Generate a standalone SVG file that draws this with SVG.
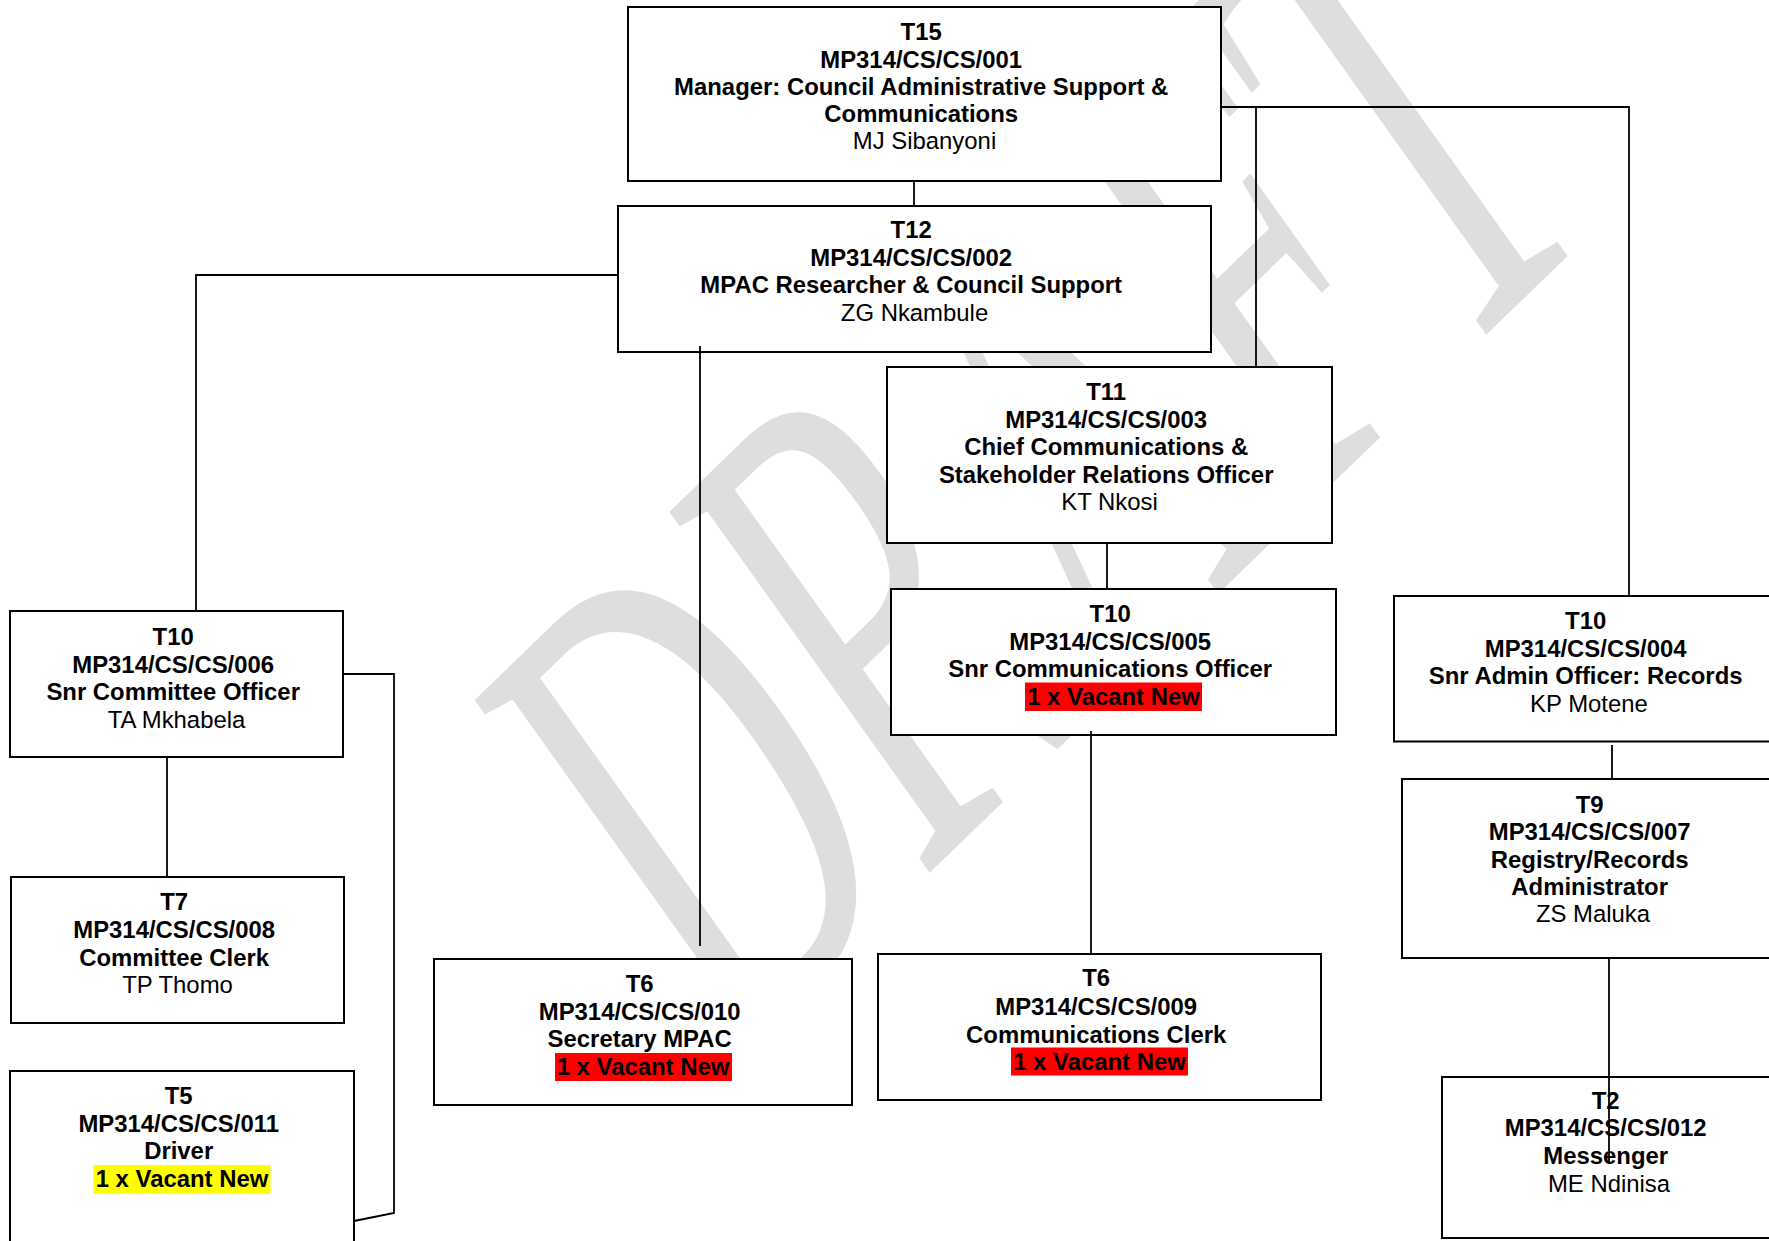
<svg xmlns="http://www.w3.org/2000/svg" width="1769" height="1241" viewBox="0 0 1769 1241">
  <style>
    .box { fill: #ffffff; stroke: #000000; stroke-width: 2; }
    .t { font-family: "Liberation Sans", Arial, sans-serif; font-size: 23.9px; text-anchor: middle; fill: #000000; }
    .b { font-weight: bold; }
    .red { fill: #ff0000; }
    .yel { fill: #ffff00; }
    .link { stroke: #000000; stroke-width: 1.8; fill: none; }
    .wm { font-family: "Liberation Serif", "Times New Roman", serif; font-size: 100px; fill: #dedede; }
  </style>

  <rect width="1769" height="1241" fill="#ffffff"/>

  <!-- watermark behind everything (stretched, slanted serif lettering) -->
  <g id="watermark">
    <text class="wm" transform="matrix(2.696 -2.606 3.951 5.535 725.6 1070)">DRAFT</text>
  </g>

  <!-- position boxes -->
  <g id="node-t15-001">
    <rect class="box" x="628" y="7" width="593" height="174"/>
    <text class="t">
      <tspan class="b" x="924.5" y="40">T15</tspan>
      <tspan class="b" x="924.5" y="68">MP314/CS/CS/001</tspan>
      <tspan class="b" x="924.5" y="95">Manager: Council Administrative Support &amp;</tspan>
      <tspan class="b" x="924.5" y="122">Communications</tspan>
      <tspan x="924.5" y="149">MJ Sibanyoni</tspan>
    </text>
  </g>

  <g id="node-t12-002">
    <rect class="box" x="618" y="206" width="593" height="146"/>
    <text class="t">
      <tspan class="b" x="914.5" y="238">T12</tspan>
      <tspan class="b" x="914.5" y="265.5">MP314/CS/CS/002</tspan>
      <tspan class="b" x="914.5" y="293">MPAC Researcher &amp; Council Support</tspan>
      <tspan x="914.5" y="320.5">ZG Nkambule</tspan>
    </text>
  </g>

  <g id="node-t11-003">
    <rect class="box" x="887" y="367" width="445" height="176"/>
    <text class="t">
      <tspan class="b" x="1109.5" y="400">T11</tspan>
      <tspan class="b" x="1109.5" y="427.5">MP314/CS/CS/003</tspan>
      <tspan class="b" x="1109.5" y="455">Chief Communications &amp;</tspan>
      <tspan class="b" x="1109.5" y="482.5">Stakeholder Relations Officer</tspan>
      <tspan x="1109.5" y="510">KT Nkosi</tspan>
    </text>
  </g>

  <g id="node-t10-005">
    <rect class="box" x="891" y="589" width="445" height="146"/>
    <rect class="red" x="1025" y="682.5" width="177" height="28.5"/>
    <text class="t b">
      <tspan x="1113.5" y="622">T10</tspan>
      <tspan x="1113.5" y="650">MP314/CS/CS/005</tspan>
      <tspan x="1113.5" y="677">Snr Communications Officer</tspan>
      <tspan x="1113.5" y="705">1 x Vacant New</tspan>
    </text>
  </g>

  <g id="node-t10-004">
    <rect class="box" x="1394" y="596" width="390" height="145.5"/>
    <text class="t">
      <tspan class="b" x="1589" y="629">T10</tspan>
      <tspan class="b" x="1589" y="657">MP314/CS/CS/004</tspan>
      <tspan class="b" x="1589" y="684">Snr Admin Officer: Records</tspan>
      <tspan x="1589" y="712">KP Motene</tspan>
    </text>
  </g>

  <g id="node-t9-007">
    <rect class="box" x="1402" y="779" width="382" height="179"/>
    <text class="t">
      <tspan class="b" x="1593" y="813">T9</tspan>
      <tspan class="b" x="1593" y="840">MP314/CS/CS/007</tspan>
      <tspan class="b" x="1593" y="868">Registry/Records</tspan>
      <tspan class="b" x="1593" y="895">Administrator</tspan>
      <tspan x="1593" y="922">ZS Maluka</tspan>
    </text>
  </g>

  <g id="node-t2-012">
    <rect class="box" x="1442" y="1077" width="334" height="161"/>
    <text class="t">
      <tspan class="b" x="1609" y="1109">T2</tspan>
      <tspan class="b" x="1609" y="1136">MP314/CS/CS/012</tspan>
      <tspan class="b" x="1609" y="1164">Messenger</tspan>
      <tspan x="1609" y="1192">ME Ndinisa</tspan>
    </text>
  </g>

  <g id="node-t10-006">
    <rect class="box" x="10" y="611" width="333" height="146"/>
    <text class="t">
      <tspan class="b" x="176.5" y="644.5">T10</tspan>
      <tspan class="b" x="176.5" y="672.5">MP314/CS/CS/006</tspan>
      <tspan class="b" x="176.5" y="700">Snr Committee Officer</tspan>
      <tspan x="176.5" y="728">TA Mkhabela</tspan>
    </text>
  </g>

  <g id="node-t7-008">
    <rect class="box" x="11" y="877" width="333" height="146"/>
    <text class="t">
      <tspan class="b" x="177.5" y="909.5">T7</tspan>
      <tspan class="b" x="177.5" y="938">MP314/CS/CS/008</tspan>
      <tspan class="b" x="177.5" y="966">Committee Clerk</tspan>
      <tspan x="177.5" y="993">TP Thomo</tspan>
    </text>
  </g>

  <g id="node-t5-011">
    <rect class="box" x="10" y="1071" width="344" height="200"/>
    <rect class="yel" x="93.5" y="1165" width="177" height="29"/>
    <text class="t b">
      <tspan x="182" y="1104">T5</tspan>
      <tspan x="182" y="1132">MP314/CS/CS/011</tspan>
      <tspan x="182" y="1159">Driver</tspan>
      <tspan x="182" y="1187">1 x Vacant New</tspan>
    </text>
  </g>

  <g id="node-t6-010">
    <rect class="box" x="434" y="959" width="418" height="146"/>
    <rect class="red" x="555" y="1053" width="177" height="28"/>
    <text class="t b">
      <tspan x="643" y="992">T6</tspan>
      <tspan x="643" y="1020">MP314/CS/CS/010</tspan>
      <tspan x="643" y="1047">Secretary MPAC</tspan>
      <tspan x="643" y="1075">1 x Vacant New</tspan>
    </text>
  </g>

  <g id="node-t6-009">
    <rect class="box" x="878" y="954" width="443" height="146"/>
    <rect class="red" x="1011" y="1047.5" width="177" height="28"/>
    <text class="t b">
      <tspan x="1099.5" y="986">T6</tspan>
      <tspan x="1099.5" y="1014.5">MP314/CS/CS/009</tspan>
      <tspan x="1099.5" y="1042.5">Communications Clerk</tspan>
      <tspan x="1099.5" y="1070">1 x Vacant New</tspan>
    </text>
  </g>

  <!-- reporting lines -->
  <g id="connectors" class="link">
    <line x1="914" y1="181" x2="914" y2="206"/>
    <polyline points="1221,107 1629,107 1629,596"/>
    <line x1="1256" y1="106" x2="1256" y2="367"/>
    <polyline points="618,275 196,275 196,611"/>
    <line x1="700" y1="346" x2="700" y2="946"/>
    <line x1="1107" y1="543" x2="1107" y2="589"/>
    <line x1="1091" y1="731" x2="1091" y2="954"/>
    <line x1="1612" y1="745" x2="1612" y2="779"/>
    <line x1="1609" y1="957" x2="1609" y2="1164"/>
    <line x1="167" y1="758" x2="167" y2="877"/>
    <polyline points="343,674 394,674 394,1213 354,1221"/>
  </g>
</svg>
